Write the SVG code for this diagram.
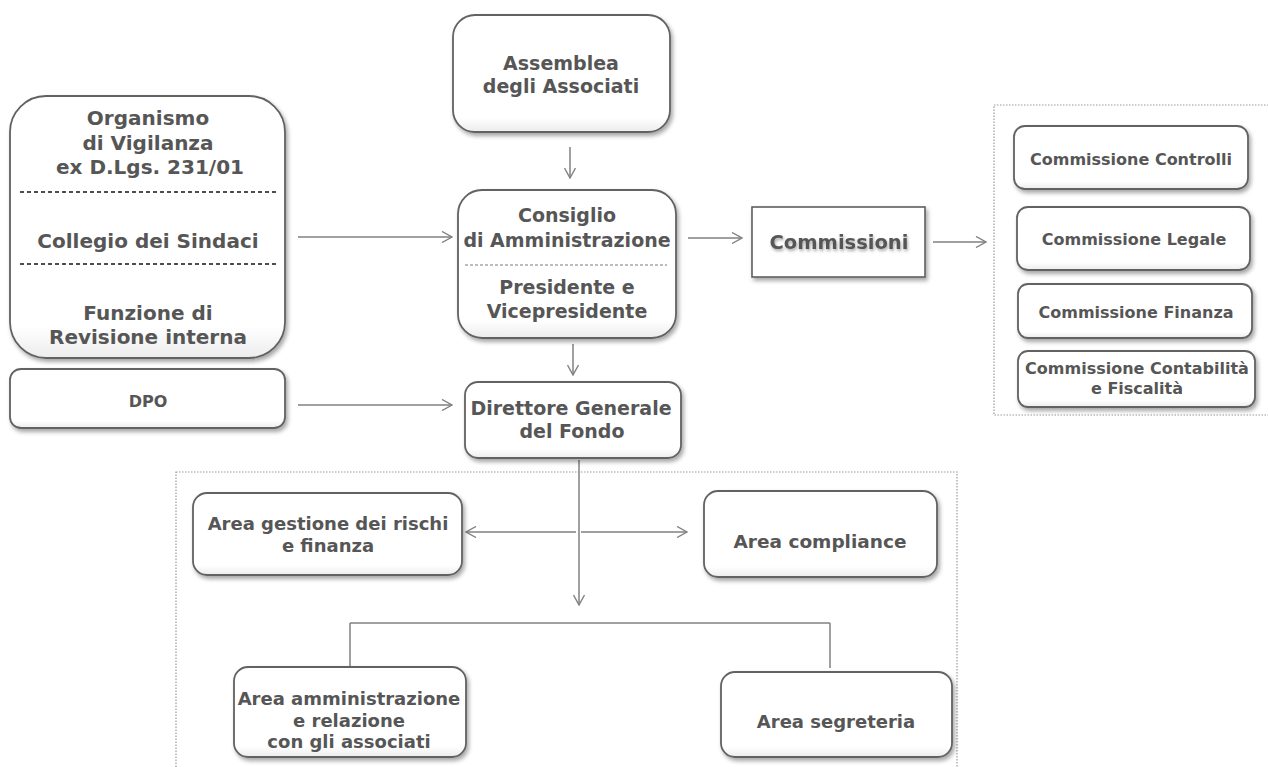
<svg xmlns="http://www.w3.org/2000/svg" width="1268" height="767" viewBox="0 0 1268 767">
<defs>
  <filter id="sh" x="-10%" y="-10%" width="125%" height="130%">
    <feDropShadow dx="2" dy="3" stdDeviation="2.2" flood-color="#000" flood-opacity="0.35"/>
  </filter>
  <filter id="tsh" x="-10%" y="-30%" width="120%" height="160%">
    <feDropShadow dx="1" dy="2" stdDeviation="1.5" flood-color="#000" flood-opacity="0.35"/>
  </filter>
  <linearGradient id="fillg" x1="0" y1="0" x2="0" y2="1">
    <stop offset="0" stop-color="#ffffff"/>
    <stop offset="0.88" stop-color="#ffffff"/>
    <stop offset="1" stop-color="#ececec"/>
  </linearGradient>
  <marker id="ah" viewBox="0 0 12 12" refX="11" refY="6" markerWidth="12" markerHeight="12" markerUnits="userSpaceOnUse" orient="auto-start-reverse">
    <path d="M1,0.5 L11,6 L1,11.5" fill="none" stroke="#808080" stroke-width="1.4"/>
  </marker>
  <style>
    .box{fill:url(#fillg);stroke:#626262;stroke-width:1.8;filter:url(#sh);}
    .rect{fill:#fff;stroke:#5e5e5e;stroke-width:1.6;filter:url(#sh);}
    .t{font-family:"DejaVu Sans",sans-serif;font-weight:bold;fill:#565656;text-anchor:middle;}
    .t20{font-size:20px;}
    .t19{font-size:19px;}
    .t18{font-size:18px;}
    .t16{font-size:16px;}
    .dash{stroke:#4d4d4d;stroke-width:2;stroke-dasharray:4 3;fill:none;}
    .dash2{stroke:#7a7a7a;stroke-width:1.2;stroke-dasharray:3 2;fill:none;}
    .dot{fill:none;stroke:#9a9a9a;stroke-width:1.2;stroke-dasharray:1.5 1.5;}
    .c{stroke:#808080;stroke-width:1.5;fill:none;}
    .ca{stroke:#808080;stroke-width:1.5;fill:none;marker-end:url(#ah);}
  </style>
</defs>
<rect width="1268" height="767" fill="#ffffff"/>

<!-- dotted containers -->
<rect class="dot" x="994" y="105" width="290" height="310"/>
<rect class="dot" x="176" y="472" width="781" height="310"/>

<g id="connectors">
  <line class="ca" x1="570" y1="147" x2="570" y2="178"/>
  <line class="ca" x1="298" y1="237" x2="452" y2="237"/>
  <line class="ca" x1="298" y1="405" x2="452" y2="405"/>
  <line class="ca" x1="573" y1="344" x2="573" y2="375"/>
  <line class="ca" x1="688" y1="238" x2="742" y2="238"/>
  <line class="ca" x1="933" y1="242" x2="986" y2="242"/>
  <line class="ca" x1="579" y1="460" x2="579" y2="605"/>
  <line class="ca" x1="576" y1="532" x2="466" y2="532"/>
  <line class="ca" x1="581" y1="532" x2="687" y2="532"/>
  <line class="c" x1="350" y1="623" x2="830" y2="623"/>
  <line class="c" x1="350" y1="623" x2="350" y2="667"/>
  <line class="c" x1="830" y1="623" x2="830" y2="668"/>
</g>

<g id="organismo">
  <rect class="box" x="10" y="96" width="275" height="262" rx="36"/>
  <text class="t t20" x="148" y="125">Organismo</text>
  <text class="t t20" x="148" y="150">di Vigilanza</text>
  <text class="t t20" x="150" y="174">ex D.Lgs. 231/01</text>
  <line class="dash" x1="20" y1="192" x2="278" y2="192"/>
  <text class="t t20" x="148" y="248">Collegio dei Sindaci</text>
  <line class="dash" x1="20" y1="264" x2="278" y2="264"/>
  <text class="t t20" x="148" y="320">Funzione di</text>
  <text class="t t20" x="148" y="344">Revisione interna</text>
</g>

<g id="dpo">
  <rect class="box" x="10" y="369" width="275" height="59" rx="11"/>
  <text class="t t16" x="148" y="407">DPO</text>
</g>

<g id="assemblea">
  <rect class="box" x="453" y="15" width="217" height="117" rx="22"/>
  <text class="t t19" x="561" y="70">Assemblea</text>
  <text class="t t19" x="561" y="93">degli Associati</text>
</g>

<g id="consiglio">
  <rect class="box" x="458" y="190" width="218" height="148" rx="24"/>
  <text class="t t19" x="567" y="222">Consiglio</text>
  <text class="t t19" x="567" y="247">di Amministrazione</text>
  <line class="dash2" x1="465" y1="265" x2="667" y2="265"/>
  <text class="t t19" x="567" y="294">Presidente e</text>
  <text class="t t19" x="567" y="318">Vicepresidente</text>
</g>

<g id="commissioni">
  <rect class="rect" x="752" y="207" width="173" height="70"/>
  <text class="t" x="839" y="249" style="font-size:19.5px;filter:url(#tsh)">Commissioni</text>
</g>

<g id="direttore">
  <rect class="box" x="465" y="382" width="216" height="76" rx="13"/>
  <text class="t t19" x="571" y="415">Direttore Generale</text>
  <text class="t t19" x="572" y="438">del Fondo</text>
</g>

<g id="comm-controlli">
  <rect class="box" x="1014" y="126" width="234" height="63" rx="11"/>
  <text class="t t16" x="1131" y="165">Commissione Controlli</text>
</g>
<g id="comm-legale">
  <rect class="box" x="1017" y="207" width="233" height="63" rx="11"/>
  <text class="t t16" x="1134" y="245">Commissione Legale</text>
</g>
<g id="comm-finanza">
  <rect class="box" x="1018" y="284" width="234" height="54" rx="10"/>
  <text class="t t16" x="1136" y="318">Commissione Finanza</text>
</g>
<g id="comm-contabilita">
  <rect class="box" x="1018" y="351" width="237" height="56" rx="10"/>
  <text class="t t16" x="1137" y="374">Commissione Contabilità</text>
  <text class="t t16" x="1137" y="394">e Fiscalità</text>
</g>

<g id="area-rischi">
  <rect class="box" x="193" y="493" width="269" height="82" rx="14"/>
  <text class="t t18" x="328" y="530">Area gestione dei rischi</text>
  <text class="t t18" x="328" y="552">e finanza</text>
</g>
<g id="area-compliance">
  <rect class="box" x="704" y="491" width="233" height="86" rx="14"/>
  <text class="t" x="820" y="548" style="font-size:18.5px">Area compliance</text>
</g>
<g id="area-amministrazione">
  <rect class="box" x="234" y="667" width="232" height="90" rx="14"/>
  <text class="t t18" x="349" y="705">Area amministrazione</text>
  <text class="t t18" x="349" y="727">e relazione</text>
  <text class="t t18" x="349" y="748">con gli associati</text>
</g>
<g id="area-segreteria">
  <rect class="box" x="721" y="672" width="231" height="85" rx="14"/>
  <text class="t t18" x="836" y="728">Area segreteria</text>
</g>
</svg>
